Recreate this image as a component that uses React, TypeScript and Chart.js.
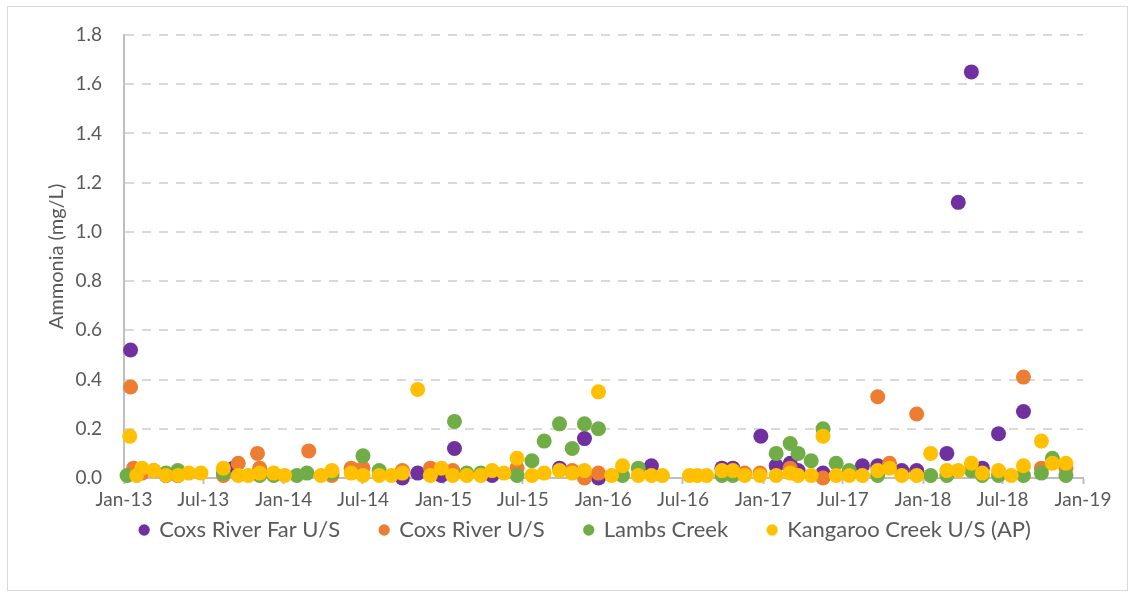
import React, { useEffect, useRef } from "react";
import { Chart, registerables } from "chart.js";

Chart.register(...registerables);

// Axis ticks
const tickDates = [
  "2013-01-01", "2013-07-01", "2014-01-01", "2014-07-01", "2015-01-01", "2015-07-01",
  "2016-01-01", "2016-07-01", "2017-01-01", "2017-07-01", "2018-01-01", "2018-07-01", "2019-01-01",
];
const tickLabels = [
  "Jan-13", "Jul-13", "Jan-14", "Jul-14", "Jan-15", "Jul-15",
  "Jan-16", "Jul-16", "Jan-17", "Jul-17", "Jan-18", "Jul-18", "Jan-19",
];

const seriesNames = ["Coxs River Far U/S", "Coxs River U/S", "Lambs Creek", "Kangaroo Creek U/S (AP)"];
const seriesColors = ["#7030A0", "#ED7D31", "#70AD47", "#FFC000"];

// Coxs River Far U/S
const coxsFarDates = [
  "2013-01-16", "2013-04-07", "2013-05-04", "2013-09-08", "2014-09-29", "2014-11-03",
  "2014-12-27", "2015-01-26", "2015-04-22", "2015-09-23", "2015-11-19", "2015-12-21",
  "2016-04-20", "2016-09-28", "2016-10-23", "2016-12-26", "2017-01-30", "2017-03-03",
  "2017-03-21", "2017-05-17", "2017-08-15", "2017-09-19", "2017-11-13", "2017-12-17",
  "2018-02-24", "2018-03-22", "2018-04-21", "2018-05-16", "2018-06-22", "2018-08-18",
];
const coxsFarValues = [
  0.52, 0.01, 0.01, 0.04, 0.0, 0.02,
  0.01, 0.12, 0.01, 0.04, 0.16, 0.0,
  0.05, 0.04, 0.04, 0.17, 0.05, 0.06,
  0.03, 0.02, 0.05, 0.05, 0.03, 0.03,
  0.1, 1.12, 1.65, 0.04, 0.18, 0.27,
];

// Coxs River U/S
const coxsDates = [
  "2013-01-16", "2013-01-23", "2013-02-11", "2013-03-10", "2013-08-16", "2013-09-19",
  "2013-11-02", "2013-11-07", "2014-02-27", "2014-04-21", "2014-06-04", "2014-07-01",
  "2014-09-29", "2014-12-02", "2015-01-22", "2015-06-18", "2015-10-22", "2015-11-19",
  "2015-12-21", "2016-11-19", "2016-12-24", "2017-03-03", "2017-05-17", "2017-09-19",
  "2017-10-16", "2017-12-17", "2018-08-18", "2018-09-28", "2018-11-23",
];
const coxsValues = [
  0.37, 0.04, 0.02, 0.03, 0.01, 0.06,
  0.1, 0.04, 0.11, 0.01, 0.04, 0.04,
  0.03, 0.04, 0.03, 0.04, 0.03, 0.0,
  0.02, 0.02, 0.02, 0.04, 0.0, 0.33,
  0.06, 0.26, 0.41, 0.04, 0.04,
];

// Lambs Creek
const lambsDates = [
  "2013-01-08", "2013-04-07", "2013-05-04", "2013-08-16", "2013-11-07", "2013-12-09",
  "2014-01-31", "2014-02-23", "2014-04-21", "2014-07-01", "2014-08-07", "2015-01-26",
  "2015-02-23", "2015-03-27", "2015-06-18", "2015-07-22", "2015-08-19", "2015-09-23",
  "2015-10-22", "2015-11-19", "2015-12-21", "2016-02-14", "2016-03-21", "2016-09-28",
  "2016-10-23", "2017-01-30", "2017-03-03", "2017-03-21", "2017-04-20", "2017-05-17",
  "2017-06-16", "2017-07-16", "2017-09-19", "2018-01-18", "2018-02-24", "2018-04-21",
  "2018-05-16", "2018-06-22", "2018-08-18", "2018-09-28", "2018-10-23", "2018-11-23",
];
const lambsValues = [
  0.01, 0.02, 0.03, 0.02, 0.01, 0.01,
  0.01, 0.02, 0.02, 0.09, 0.03, 0.23,
  0.02, 0.02, 0.01, 0.07, 0.15, 0.22,
  0.12, 0.22, 0.2, 0.01, 0.04, 0.01,
  0.01, 0.1, 0.14, 0.1, 0.07, 0.2,
  0.06, 0.03, 0.01, 0.01, 0.01, 0.03,
  0.01, 0.01, 0.01, 0.02, 0.08, 0.01,
];

// Kangaroo Creek U/S (AP)
const kangarooDates = [
  "2013-01-14", "2013-01-30", "2013-02-11", "2013-03-10", "2013-04-07", "2013-05-05",
  "2013-05-29", "2013-06-26", "2013-08-16", "2013-09-19", "2013-10-12", "2013-11-07",
  "2013-12-09", "2014-01-03", "2014-03-27", "2014-04-21", "2014-06-04", "2014-07-01",
  "2014-08-07", "2014-09-04", "2014-09-29", "2014-11-03", "2014-12-02", "2014-12-27",
  "2015-01-22", "2015-02-23", "2015-03-27", "2015-04-22", "2015-05-19", "2015-06-18",
  "2015-07-22", "2015-08-19", "2015-09-23", "2015-10-22", "2015-11-19", "2015-12-21",
  "2016-01-20", "2016-02-14", "2016-03-21", "2016-04-20", "2016-05-15", "2016-07-16",
  "2016-08-03", "2016-08-24", "2016-09-28", "2016-10-23", "2016-11-19", "2016-12-24",
  "2017-01-30", "2017-03-03", "2017-03-21", "2017-04-20", "2017-05-17", "2017-06-16",
  "2017-07-16", "2017-08-15", "2017-09-19", "2017-10-16", "2017-11-13", "2017-12-17",
  "2018-01-18", "2018-02-24", "2018-03-22", "2018-04-21", "2018-05-16", "2018-06-22",
  "2018-07-21", "2018-08-18", "2018-09-28", "2018-10-23", "2018-11-23",
];
const kangarooValues = [
  0.17, 0.01, 0.04, 0.03, 0.01, 0.01,
  0.02, 0.02, 0.04, 0.01, 0.01, 0.02,
  0.02, 0.01, 0.01, 0.03, 0.02, 0.01,
  0.01, 0.01, 0.02, 0.36, 0.01, 0.04,
  0.01, 0.01, 0.01, 0.03, 0.02, 0.08,
  0.01, 0.02, 0.03, 0.02, 0.03, 0.35,
  0.01, 0.05, 0.01, 0.01, 0.01, 0.01,
  0.01, 0.01, 0.03, 0.03, 0.01, 0.01,
  0.01, 0.02, 0.01, 0.01, 0.17, 0.01,
  0.01, 0.01, 0.03, 0.04, 0.01, 0.01,
  0.1, 0.03, 0.03, 0.06, 0.02, 0.03,
  0.01, 0.05, 0.15, 0.06, 0.06,
];

const seriesDates = [coxsFarDates, coxsDates, lambsDates, kangarooDates];
const seriesValues = [coxsFarValues, coxsValues, lambsValues, kangarooValues];

const BASE = Date.UTC(2013, 0, 1);
const toDay = (s: string) => {
  const [y, m, d] = s.split("-").map(Number);
  return (Date.UTC(y, m - 1, d) - BASE) / 86400000;
};
const tickDays = tickDates.map(toDay);

const FONT = "Lato, 'Open Sans', sans-serif";
const TEXT = "#595959";
const LEGEND_SIZE = 22;
const LEGEND_PAD = 40;

const frame = {
  id: "frame",
  beforeDraw(chart: any) {
    const { ctx, width, height } = chart;
    ctx.save();
    ctx.fillStyle = "#ffffff";
    ctx.fillRect(0, 0, width, height);
    ctx.strokeStyle = "#D9D9D9";
    ctx.lineWidth = 1;
    ctx.strokeRect(7.5, 6.5, 1120, 584);
    ctx.restore();
  },
};

// place the legend row (its text centre near y=530, shifted a little right)
const legendPlace = {
  id: "legendPlace",
  afterLayout(chart: any) {
    const lg = chart.legend;
    if (!lg) return;
    const h = lg.height;
    lg.top = 530 - LEGEND_PAD - LEGEND_SIZE / 2;
    lg.bottom = lg.top + h;
    lg.left += 8;
    lg.right += 8;
  },
};

export default function App() {
  const ref = useRef<HTMLCanvasElement | null>(null);

  useEffect(() => {
    if (!ref.current) return;
    const datasets = seriesNames.map((name, i) => ({
      label: name,
      data: seriesDates[i].map((d, j) => ({ x: toDay(d), y: seriesValues[i][j] })),
      backgroundColor: seriesColors[i],
      borderColor: seriesColors[i],
      pointRadius: 7.5,
      pointHoverRadius: 7.5,
      pointBorderWidth: 0,
      order: seriesNames.length - 1 - i,
      clip: false as any,
    }));

    const chart = new Chart(ref.current, {
      type: "scatter",
      data: { datasets },
      plugins: [frame, legendPlace],
      options: {
        animation: false,
        responsive: true,
        maintainAspectRatio: false,
        layout: { padding: { left: 72, right: 51, top: 35, bottom: 10 } },
        plugins: {
          tooltip: { enabled: false },
          legend: {
            position: "bottom",
            labels: {
              usePointStyle: true,
              pointStyle: "circle",
              boxWidth: 8,
              boxHeight: 8,
              padding: LEGEND_PAD,
              color: TEXT,
              font: { family: FONT, size: LEGEND_SIZE },
              sort: (a: any, b: any) => a.datasetIndex - b.datasetIndex,
            },
          },
        },
        scales: {
          x: {
            type: "linear",
            min: tickDays[0],
            max: tickDays[tickDays.length - 1],
            afterBuildTicks: (scale: any) => {
              scale.ticks = tickDays.map((v) => ({ value: v }));
            },
            afterFit: (scale: any) => {
              scale.height = 34;
            },
            ticks: {
              autoSkip: false,
              maxRotation: 0,
              minRotation: 0,
              padding: 4,
              color: TEXT,
              font: { family: FONT, size: 19 },
              callback: (_v: any, index: number) => tickLabels[index],
            },
            grid: {
              display: true,
              drawOnChartArea: false,
              drawTicks: true,
              tickLength: 6,
              tickColor: "#BFBFBF",
              tickWidth: 2,
            },
            border: { display: true, color: "#BFBFBF", width: 2 },
          },
          y: {
            min: 0,
            max: 1.8,
            afterFit: (scale: any) => {
              scale.width = 52;
            },
            ticks: {
              stepSize: 0.2,
              padding: 22,
              color: TEXT,
              font: { family: FONT, size: 19 },
              callback: (v: any) => Number(v).toFixed(1),
            },
            grid: {
              color: "#D9D9D9",
              lineWidth: 2,
              drawTicks: false,
            },
            border: { display: true, color: "#BFBFBF", width: 2, dash: [9, 8] },
            title: {
              display: true,
              text: "Ammonia (mg/L)",
              color: TEXT,
              font: { family: FONT, size: 20 },
              padding: { top: -27, bottom: 0 },
            },
          },
        },
      },
    });
    return () => chart.destroy();
  }, []);

  return (
    <div style={{ position: "absolute", left: 0, top: 0, width: 1134, height: 594 }}>
      <canvas ref={ref} />
    </div>
  );
}
